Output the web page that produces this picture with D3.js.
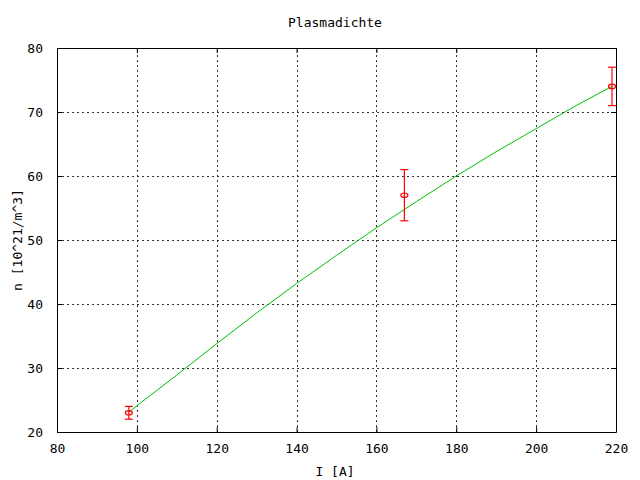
<!DOCTYPE html>
<html><head><meta charset="utf-8">
<script src="https://cdn.jsdelivr.net/npm/d3@7"></script>
<style>body{margin:0;background:#fff}svg{display:block}text{font-family:"DejaVu Sans Mono","Liberation Mono",monospace;font-size:13px;fill:#000}</style>
</head><body>
<script>
const xTicks = [80,100,120,140,160,180,200,220];
const yTicks = [20,30,40,50,60,70,80];
const measI = [98,167,219];
const measN = [23,57,74];
const measLow = [22,53,71];
const measHigh = [24,61,77];
const fitI = [98,100,110,120,130,140,150,160,170,180,190,200,210,219];
const fitN = [23.1,24.1,28.9,33.8,38.6,43.2,47.6,51.9,56.0,60.0,63.8,67.4,71.0,74.0];

const W=640,H=480, m={l:57,r:24,t:48,b:48};
const svg=d3.select("body").append("svg").attr("width",W).attr("height",H);
const x=d3.scaleLinear().domain([80,220]).range([m.l,W-m.r]);
const y=d3.scaleLinear().domain([20,80]).range([H-m.b,m.t]);

// grid
const g=svg.append("g").attr("stroke","#333").attr("stroke-width",1).attr("stroke-dasharray","2,3").attr("shape-rendering","crispEdges");
g.selectAll("line.v").data(xTicks.slice(1,-1)).join("line").attr("x1",d=>Math.round(x(d))+0.5).attr("x2",d=>Math.round(x(d))+0.5).attr("y1",y(20)).attr("y2",y(80));
g.selectAll("line.h").data(yTicks.slice(1,-1)).join("line").attr("y1",d=>Math.round(y(d))+0.5).attr("y2",d=>Math.round(y(d))+0.5).attr("x1",x(80)).attr("x2",x(220));

// axes
const tl=-5;
svg.append("g").attr("transform",`translate(0,${y(20)})`).call(d3.axisBottom(x).tickValues(xTicks).tickSizeInner(tl).tickSizeOuter(0).tickPadding(12));
svg.append("g").attr("transform",`translate(0,${y(80)})`).call(d3.axisTop(x).tickValues(xTicks).tickSizeInner(tl).tickSizeOuter(0).tickFormat(""));
svg.append("g").attr("transform",`translate(${x(80)},0)`).call(d3.axisLeft(y).tickValues(yTicks).tickSizeInner(tl).tickSizeOuter(0).tickPadding(14));
svg.append("g").attr("transform",`translate(${x(220)},0)`).call(d3.axisRight(y).tickValues(yTicks).tickSizeInner(tl).tickSizeOuter(0).tickFormat(""));
svg.selectAll(".domain").attr("stroke","#000");
svg.selectAll(".tick line").attr("stroke","#000");
svg.selectAll(".tick text").attr("fill","#000");
svg.selectAll("g").attr("font-family",null).attr("font-size",null);

// fit line
svg.append("path").datum(fitI.map((d,i)=>[d,fitN[i]])).attr("fill","none").attr("stroke","#00c000").attr("stroke-width",1)
  .attr("d",d3.line().x(d=>x(d[0])).y(d=>y(d[1])));

// error bars
const eb=svg.append("g").attr("stroke","#ff0000").attr("stroke-width",1.2).attr("fill","none");
measI.forEach((v,i)=>{
  const cx=x(v);
  eb.append("line").attr("x1",cx).attr("x2",cx).attr("y1",y(measLow[i])).attr("y2",y(measHigh[i]));
  eb.append("line").attr("x1",cx-4).attr("x2",cx+4).attr("y1",y(measLow[i])).attr("y2",y(measLow[i]));
  eb.append("line").attr("x1",cx-4).attr("x2",cx+4).attr("y1",y(measHigh[i])).attr("y2",y(measHigh[i]));
  eb.append("ellipse").attr("cx",cx).attr("cy",y(measN[i])).attr("rx",3.5).attr("ry",2.2);
});

// titles
svg.append("text").attr("x",335).attr("y",27).attr("text-anchor","middle").text("Plasmadichte");
svg.append("text").attr("x",335).attr("y",476).attr("text-anchor","middle").text("I [A]");
svg.append("text").attr("transform","translate(22,240) rotate(-90)").attr("text-anchor","middle").text("n [10^21/m^3]");
</script>
</body></html>
